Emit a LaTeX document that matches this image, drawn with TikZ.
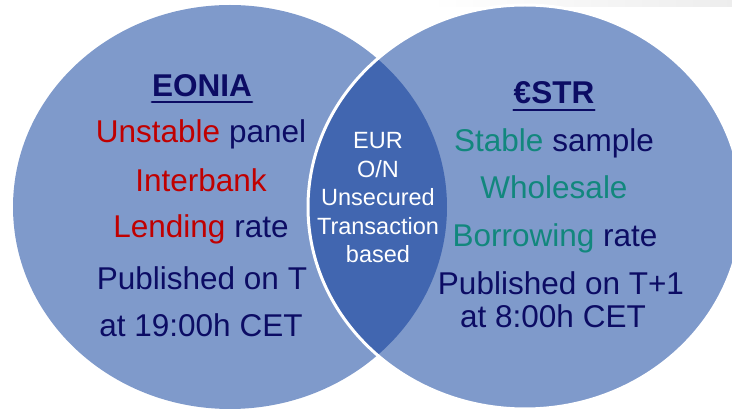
\documentclass[tikz,border=0pt]{standalone}
\usepackage{fontspec}
\setmainfont{Liberation Sans}
\definecolor{disc}{RGB}{127,154,203}
\definecolor{overlap}{RGB}{65,102,176}
\definecolor{navy}{RGB}{12,12,100}
\definecolor{eonred}{RGB}{192,0,0}
\definecolor{estrteal}{RGB}{18,135,125}
\tikzset{
  rate/.style={font=\fontsize{31.5}{35}\selectfont, text=navy, anchor=base, inner sep=0pt},
  ratehead/.style={rate, font=\fontsize{31.5}{35}\selectfont\bfseries},
  lenstext/.style={font=\fontsize{23.5}{28}\selectfont, text=white, anchor=base, inner sep=0pt}
}
\begin{document}
\begin{tikzpicture}[x=1pt, y=-1pt, line join=round, line cap=round]
\useasboundingbox (0,0) rectangle (732,411);
\clip (0,0) rectangle (732,411);
\shade[left color=white, right color=black!7] (430,0) rectangle (732,7);
% the two discs and their overlap
\fill[disc] (230,207) ellipse [x radius=217pt, y radius=202pt];
\fill[disc] (525,207) ellipse [x radius=217pt, y radius=202pt];
\begin{scope}
\clip (230,207) ellipse [x radius=217pt, y radius=202pt];
\fill[overlap] (525,207) ellipse [x radius=217pt, y radius=202pt];
\end{scope}
\draw[white, line width=3pt] (525,207) ellipse [x radius=217pt, y radius=202pt];
% EONIA side
\node[ratehead] (eonia) at (202,97) {EONIA};
\draw[navy, line width=2.5pt] ([yshift=-5pt]eonia.base west) -- ([yshift=-5pt]eonia.base east);
\node[rate] (unstable) at (201,143) {\textcolor{eonred}{Unstable} panel};
\node[rate, text=eonred] (interbank) at (201,192) {Interbank};
\node[rate] (lending) at (201,238) {\textcolor{eonred}{Lending} rate};
\node[rate] (pubT) at (202,290) {Published on T};
\node[rate] (at19) at (201,337) {at 19:00h CET};
% common features
\node[lenstext] (eur) at (378,149) {EUR};
\node[lenstext] (on) at (378,177.5) {O/N};
\node[lenstext] (unsecured) at (378,206) {Unsecured};
\node[lenstext] (transaction) at (378,234.5) {Transaction};
\node[lenstext] (based) at (378,263) {based};
% ESTR side
\node[ratehead] (estr) at (554,104) {€STR};
\draw[navy, line width=2.5pt] ([yshift=-6pt]estr.base west) -- ([yshift=-6pt]estr.base east);
\node[rate] (stable) at (554,152) {\textcolor{estrteal}{Stable} sample};
\node[rate, text=estrteal] (wholesale) at (554,199) {Wholesale};
\node[rate] (borrowing) at (555,247) {\textcolor{estrteal}{Borrowing} rate};
\node[rate] (pubT1) at (561,295) {Published on T+1};
\node[rate] (at8) at (553,328) {at 8:00h CET};
\end{tikzpicture}
\end{document}
